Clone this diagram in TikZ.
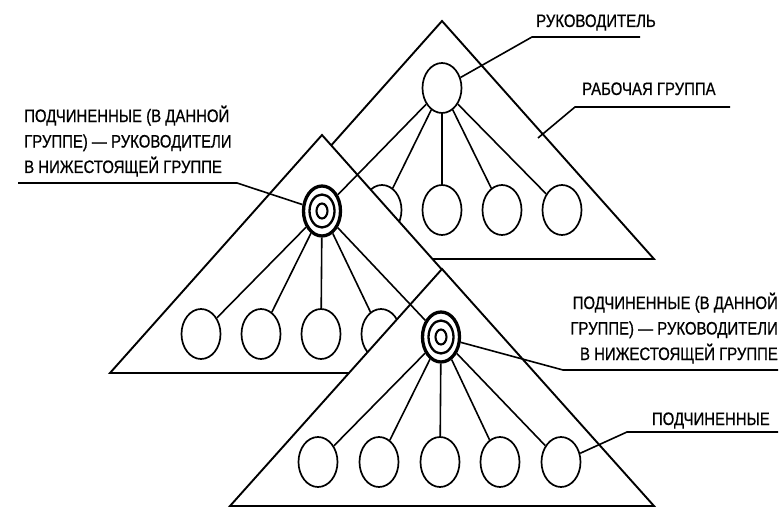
\documentclass[tikz,border=0pt]{standalone}
\usepackage{fontspec}
\setmainfont[FakeStretch=0.83,FakeBold=0.7]{Liberation Sans}
\usetikzlibrary{shapes.geometric}
\begin{document}
\begin{tikzpicture}[x=1pt,y=-1pt,
  tri/.style={draw,fill=white,line width=1.9pt,line join=miter},
  member/.style={ellipse,draw,fill=white,line width=1.7pt,minimum width=39pt,minimum height=50pt,inner sep=0pt},
  chief/.style={ellipse,draw,fill=white,line width=3.3pt,minimum width=37pt,minimum height=50pt,inner sep=0pt},
  link/.style={line width=1.6pt},
  leader/.style={line width=1.6pt},
  lab/.style={font=\fontsize{18}{25.5}\selectfont,inner sep=0pt}
]
\useasboundingbox (0,0) rectangle (780,508);

% ---------- top group ----------
\draw[tri] (442,21) -- (654,259) -- (230,259) -- cycle;
\node[member] (r1) at (442,88) {};
\node[member] (a2) at (382,210) {};
\node[member] (a3) at (442,210) {};
\node[member] (a4) at (502,210) {};
\node[member] (a5) at (562,210) {};
\foreach \c in {a2,a3,a4,a5} \draw[link] (r1) -- (\c);

% ---------- middle group ----------
\draw[tri] (322,135) -- (534,373) -- (110,373) -- cycle;
\node[chief] (r2) at (322,211) {};
\draw[link] (r1) -- (r2);
\draw[line width=2.3pt] (r2.center) ellipse [x radius=12.5pt, y radius=16.5pt];
\draw[line width=2.1pt] (r2.center) ellipse [x radius=5.5pt, y radius=7.5pt];
\node[member] (b1) at (201,334) {};
\node[member] (b2) at (261,334) {};
\node[member] (b3) at (321,334) {};
\node[member] (b4) at (381,334) {};
\foreach \c in {b1,b2,b3,b4} \draw[link] (r2) -- (\c);

% ---------- bottom group ----------
\draw[tri] (442,269) -- (654,506) -- (230,506) -- cycle;
\node[chief] (r3) at (441,337) {};
\draw[link] (r2) -- (r3);
\draw[line width=2.3pt] (r3.center) ellipse [x radius=12.5pt, y radius=16.5pt];
\draw[line width=2.1pt] (r3.center) ellipse [x radius=5.5pt, y radius=7.5pt];
\node[member] (c1) at (318,462) {};
\node[member] (c2) at (379,462) {};
\node[member] (c3) at (440,462) {};
\node[member] (c4) at (500,462) {};
\node[member] (c5) at (561,462) {};
\foreach \c in {c1,c2,c3,c4,c5} \draw[link] (r3) -- (\c);

% ---------- labels ----------
\node[lab,anchor=base west] (t1) at (536,27) {РУКОВОДИТЕЛЬ};
\node[lab,anchor=base west] (t2) at (582,95) {РАБОЧАЯ ГРУППА};
\node[lab,anchor=base west,align=left] (t3) at (24,173)
  {ПОДЧИНЕННЫЕ (В ДАННОЙ\\ГРУППЕ) — РУКОВОДИТЕЛИ\\В НИЖЕСТОЯЩЕЙ ГРУППЕ};
\node[lab,anchor=base east,align=right] (t4) at (778,360)
  {ПОДЧИНЕННЫЕ (В ДАННОЙ\\ГРУППЕ) — РУКОВОДИТЕЛИ\\В НИЖЕСТОЯЩЕЙ ГРУППЕ};
\node[lab,anchor=base east] (t5) at (770,425) {ПОДЧИНЕННЫЕ};

% ---------- leaders ----------
\coordinate (p1a) at (532,37);  \coordinate (p1b) at (640,37);
\coordinate (p2s) at (538,138); \coordinate (p2a) at (575,107); \coordinate (p2b) at (730,107);
\coordinate (p3s) at (18,183);  \coordinate (p3a) at (237,183);
\coordinate (p4s) at (778,370); \coordinate (p4a) at (563,370);
\coordinate (p5s) at (778,432); \coordinate (p5a) at (627,432);
\draw[leader] (r1) -- (p1a) -- (p1b);
\draw[leader] (p2s) -- (p2a) -- (p2b);
\draw[leader] (p3s) -- (p3a) -- (r2);
\draw[leader] (p4s) -- (p4a) -- (r3);
\draw[leader] (p5s) -- (p5a) -- (c5);
\end{tikzpicture}
\end{document}
